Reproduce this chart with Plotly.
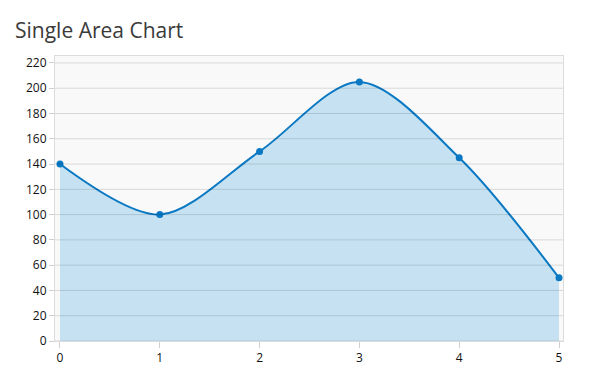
import plotly.graph_objects as go

x_vals = [0, 1, 2, 3, 4, 5]
y_vals = [140, 100, 150, 205, 145, 50]
y_ticks = [0, 20, 40, 60, 80, 100, 120, 140, 160, 180, 200, 220]
title_text = "Single Area Chart"

line_color = "#0a78c2"
fill_color = "#c6e2f2"

fig = go.Figure()
fig.add_trace(go.Scatter(
    x=x_vals, y=y_vals, mode="lines+markers",
    line=dict(color=line_color, width=2, shape="spline", smoothing=0.9),
    marker=dict(color=line_color, size=7),
    fill="tozeroy", fillcolor=fill_color,
    hoverinfo="x+y", showlegend=False,
))

# gridlines drawn above the area fill, as in the reference
for t in y_ticks:
    fig.add_shape(type="line", xref="paper", x0=0, x1=1, yref="y", y0=t, y1=t,
                  line=dict(color="rgba(0,0,0,0.13)", width=1), layer="above")

fig.update_layout(
    width=598, height=383,
    margin=dict(l=55, r=35, t=56, b=42),
    paper_bgcolor="white", plot_bgcolor="#f9f9f9",
    font=dict(family="Open Sans", size=12, color="#111"),
    title=dict(text=title_text, x=15/598, xanchor="left", xref="container",
               y=1 - 31/383, yanchor="middle", yref="container",
               font=dict(family="Open Sans", size=21, color="#3a3a3a")),
)
fig.update_xaxes(range=[-0.05, 5.04], tickvals=x_vals, showgrid=False, zeroline=False,
                 ticks="outside", ticklen=6, tickcolor="#d0d0d0",
                 showline=True, linecolor="#dcdcdc", mirror=True)
fig.update_yaxes(range=[0, 225.5], tickvals=y_ticks, showgrid=False, zeroline=False,
                 ticks="outside", ticklen=5, tickcolor="#d0d0d0",
                 showline=True, linecolor="#dcdcdc", mirror=True)

fig.write_html("out.html", config={"displayModeBar": False},
               post_script="document.body.style.margin='0';document.body.style.overflow='hidden';")
